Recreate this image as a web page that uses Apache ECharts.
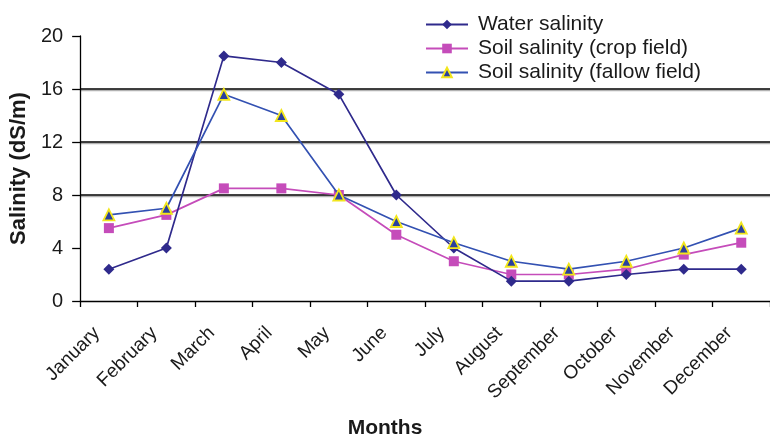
<!DOCTYPE html>
<html>
<head>
<meta charset="utf-8">
<script src="https://cdn.jsdelivr.net/npm/echarts@6/dist/echarts.min.js"></script>
<style>
  html, body { margin: 0; padding: 0; background: #fff; }
  #chart { width: 770px; height: 436px; }
</style>
</head>
<body>
<div id="chart"></div>
<script>
// Monthly salinity measurements (dS/m)
const months = ['January', 'February', 'March', 'April', 'May', 'June',
                'July', 'August', 'September', 'October', 'November', 'December'];
const waterSalinity  = [2.4, 4.0, 18.5, 18.0, 15.6, 8.0, 4.0, 1.5, 1.5, 2.0, 2.4, 2.4];
const soilCropField  = [5.5, 6.5, 8.5, 8.5, 8.0, 5.0, 3.0, 2.0, 2.0, 2.4, 3.5, 4.4];
const soilFallowField = [6.5, 7.0, 15.6, 14.0, 8.0, 6.0, 4.4, 3.0, 2.4, 3.0, 4.0, 5.5];
const yTicks = [0, 4, 8, 12, 16, 20];

const FONT = '"Liberation Sans", Arial, Helvetica, sans-serif';
const TEXT = '#1a1a1a';
const chart = echarts.init(document.getElementById('chart'), null, { renderer: 'canvas' });

chart.setOption({
  animation: false,
  backgroundColor: '#ffffff',
  textStyle: { fontFamily: FONT },
  title: {
    text: 'Months',
    left: 'center',
    top: 418,
    padding: 0,
    textStyle: { fontFamily: FONT, fontSize: 21, fontWeight: 'bold', color: TEXT }
  },
  legend: {
    orient: 'vertical',
    left: 425,
    top: 14,
    padding: 0,
    itemWidth: 42,
    itemHeight: 12,
    itemGap: 3,
    textStyle: { fontFamily: FONT, fontSize: 21, color: TEXT, padding: [0, 0, 0, 5] },
    data: ['Water salinity', 'Soil salinity (crop field)', 'Soil salinity (fallow field)']
  },
  grid: { left: 80, top: 36, right: -8, bottom: 135, containLabel: false },
  xAxis: {
    type: 'category',
    data: months,
    boundaryGap: true,
    axisLine: { lineStyle: { color: '#000', width: 1.3 } },
    axisTick: { show: true, length: 6, lineStyle: { color: '#000', width: 1.3 } },
    axisLabel: {
      rotate: 45,
      interval: 0,
      margin: 17,
      padding: [0, 17, 0, 0],
      fontFamily: FONT,
      fontSize: 19,
      color: TEXT
    }
  },
  yAxis: {
    type: 'value',
    min: yTicks[0],
    max: yTicks[yTicks.length - 1],
    interval: 4,
    name: 'Salinity (dS/m)',
    nameLocation: 'middle',
    nameGap: 43,
    nameTextStyle: { fontFamily: FONT, fontSize: 22, fontWeight: 'bold', color: TEXT },
    axisLine: { show: true, lineStyle: { color: '#000', width: 1.3 } },
    axisTick: { show: true, length: 8, lineStyle: { color: '#000', width: 1.3 } },
    axisLabel: { margin: 17, fontFamily: FONT, fontSize: 20, color: TEXT },
    splitLine: {
      show: true,
      lineStyle: {
        color: ['rgba(0,0,0,0)', 'rgba(0,0,0,0)', '#000', '#000', '#000', 'rgba(0,0,0,0)'],
        width: 1.5,
        shadowColor: 'rgba(0,0,0,0.3)',
        shadowOffsetY: 1.5
      }
    }
  },
  series: [
    {
      name: 'Water salinity',
      type: 'line',
      data: waterSalinity,
      symbol: 'diamond',
      symbolSize: 11,
      showAllSymbol: true,
      itemStyle: { color: '#2f2a8c' },
      lineStyle: { color: '#2f2a8c', width: 1.7 },
      z: 4
    },
    {
      name: 'Soil salinity (crop field)',
      type: 'line',
      data: soilCropField,
      symbol: 'rect',
      symbolSize: 10,
      showAllSymbol: true,
      itemStyle: { color: '#c54cba' },
      lineStyle: { color: '#c54cba', width: 1.7 },
      z: 3
    },
    {
      name: 'Soil salinity (fallow field)',
      type: 'line',
      data: soilFallowField,
      symbol: 'triangle',
      symbolSize: 11,
      showAllSymbol: true,
      itemStyle: { color: '#2a3f9e', borderColor: '#f2e61c', borderWidth: 1.8 },
      lineStyle: { color: '#3351b2', width: 1.7 },
      z: 5
    }
  ]
});
</script>
</body>
</html>
